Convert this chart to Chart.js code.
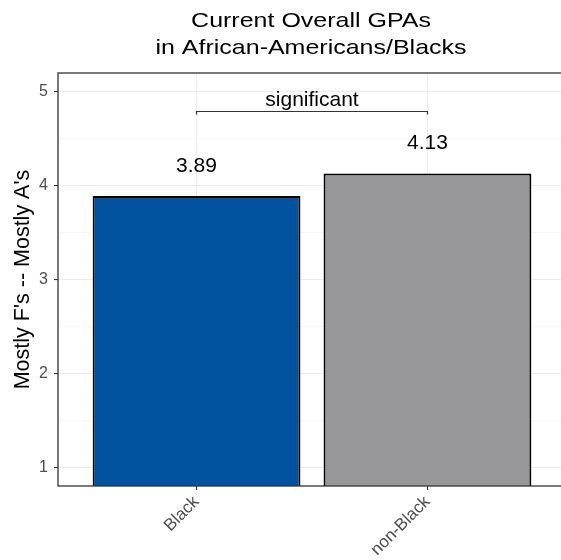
<!DOCTYPE html>
<html>
<head>
<meta charset="utf-8">
<script src="https://cdn.jsdelivr.net/npm/chart.js@4.4.1/dist/chart.umd.min.js"></script>
<style>
  html, body { margin: 0; padding: 0; background: #fff; overflow: hidden; }
  #wrap { width: 624px; height: 560px; }
</style>
</head>
<body>
<div id="wrap"><canvas id="gpa"></canvas></div>
<script>
// GPA by group
var groups = ["Black", "non-Black"];
var gpaValues = [3.89, 4.13];
var barColors = ["#0153a0", "#98989a"];
var yTicks = [1, 2, 3, 4, 5];
var yMinorTicks = [1.5, 2.5, 3.5, 4.5];
var titleLines = ["Current Overall GPAs", "in African-Americans/Blacks"];
var sigLabel = "significant";
var sigLevel = 4.8;

var FONT = "'Liberation Sans', Arial, sans-serif";

// two-line title centred over the panel, set a little wide
var plotTitle = {
    id: "plotTitle",
    afterDraw: function(chart) {
        var ctx = chart.ctx, a = chart.chartArea;
        var cx = (a.left + a.right) / 2;
        var sx = 1.19;
        ctx.save();
        ctx.font = "21px " + FONT;
        ctx.fillStyle = "#000";
        ctx.textAlign = "center";
        ctx.textBaseline = "alphabetic";
        ctx.scale(sx, 1);
        titleLines.forEach(function(t, i) {
            ctx.fillText(t, (cx - 1) / sx, 27 + i * 26.5);
        });
        ctx.restore();
    }
};

// panel border, value labels and significance bracket
var panelExtras = {
    id: "panelExtras",
    afterDatasetsDraw: function(chart) {
        var ctx = chart.ctx, a = chart.chartArea;
        var xs = chart.scales.x, ys = chart.scales.y;
        ctx.save();

        ctx.fillStyle = "#000";
        ctx.font = "21px " + FONT;
        ctx.textAlign = "center";
        ctx.textBaseline = "alphabetic";
        gpaValues.forEach(function(v, i) {
            ctx.fillText(v.toFixed(2), xs.getPixelForValue(i + 1), ys.getPixelForValue(v) - 24);
        });

        var x1 = xs.getPixelForValue(1), x2 = xs.getPixelForValue(2);
        var yb = Math.round(ys.getPixelForValue(sigLevel)) + 0.5;
        ctx.strokeStyle = "#333";
        ctx.lineWidth = 1.2;
        ctx.beginPath();
        ctx.moveTo(x1, yb + 3);
        ctx.lineTo(x1, yb);
        ctx.lineTo(x2, yb);
        ctx.lineTo(x2, yb + 3);
        ctx.stroke();
        ctx.fillText(sigLabel, (x1 + x2) / 2, yb - 6);

        ctx.strokeStyle = "#333";
        ctx.lineWidth = 1.3;
        ctx.strokeRect(a.left, a.top, a.right - a.left, a.bottom - a.top);
        ctx.restore();
    }
};

new Chart(document.getElementById("gpa").getContext("2d"), {
    type: "bar",
    data: {
        datasets: [{
            data: gpaValues.map(function(v, i) { return { x: i + 1, y: v }; }),
            backgroundColor: barColors,
            borderColor: "#000",
            borderWidth: 2,
            borderSkipped: false,
            barPercentage: 0.9,
            categoryPercentage: 1
        }]
    },
    options: {
        responsive: true,
        maintainAspectRatio: false,
        animation: false,
        layout: { padding: { left: 0, right: 58, top: 73, bottom: 0 } },
        plugins: {
            legend: { display: false },
            tooltip: { enabled: false },
            title: { display: false }
        },
        scales: {
            x: {
                type: "linear",
                min: 0.4,
                max: 2.6,
                offset: false,
                afterBuildTicks: function(s) {
                    s.ticks = groups.map(function(g, i) { return { value: i + 1 }; });
                },
                afterFit: function(s) { s.height = 74; },
                ticks: {
                    callback: function(v) { return groups[v - 1]; },
                    minRotation: 45,
                    maxRotation: 45,
                    color: "#4d4d4d",
                    font: { family: FONT, size: 17 },
                    padding: 2
                },
                grid: { offset: false, color: "#ebebeb", lineWidth: 1.1, tickColor: "#333", tickLength: 4 },
                border: { display: false }
            },
            y: {
                min: 0.8,
                max: 5.2,
                afterBuildTicks: function(s) {
                    s.ticks = yTicks.concat(yMinorTicks).sort().map(function(v) { return { value: v }; });
                },
                afterFit: function(s) { s.width = 58; },
                ticks: {
                    callback: function(v) { return yTicks.indexOf(v) >= 0 ? String(v) : ""; },
                    color: "#4d4d4d",
                    font: { family: FONT, size: 16 },
                    padding: 6
                },
                grid: {
                    color: function(c) { return c.tick && yTicks.indexOf(c.tick.value) >= 0 ? "#ebebeb" : "#f4f4f4"; },
                    lineWidth: function(c) { return c.tick && yTicks.indexOf(c.tick.value) >= 0 ? 1.1 : 0.6; },
                    tickColor: function(c) { return c.tick && yTicks.indexOf(c.tick.value) >= 0 ? "#333" : "rgba(0,0,0,0)"; },
                    tickLength: 4
                },
                border: { display: false },
                title: {
                    display: true,
                    text: "Mostly F's -- Mostly A's",
                    color: "#000",
                    font: { family: FONT, size: 21.5 },
                    padding: { top: 10, bottom: 0 }
                }
            }
        }
    },
    plugins: [panelExtras, plotTitle]
});
</script>
</body>
</html>
